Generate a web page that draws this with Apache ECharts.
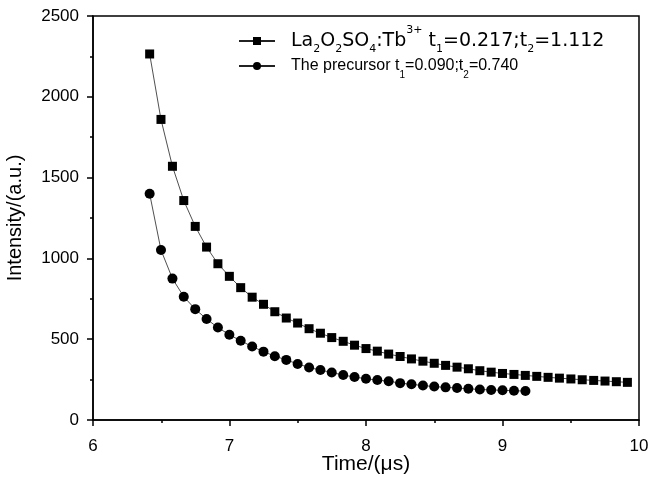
<!DOCTYPE html>
<html>
<head>
<meta charset="utf-8">
<script src="https://cdn.jsdelivr.net/npm/echarts@6/dist/echarts.min.js"></script>
<style>html,body{margin:0;padding:0;background:#fff}#c{width:650px;height:477px}</style>
</head>
<body>
<div id="c"></div>
<script>
var squareTime = [6.415,6.498,6.582,6.665,6.749,6.832,6.915,6.999,7.082,7.166,7.249,7.332,7.416,7.499,7.583,7.666,7.749,7.833,7.916,8.000,8.083,8.166,8.250,8.333,8.417,8.500,8.583,8.667,8.750,8.834,8.917,9.000,9.084,9.167,9.251,9.334,9.417,9.501,9.584,9.668,9.751,9.834,9.915];
var squareIntensity = [2265,1860,1570,1358,1198,1070,967,889,819,760,716,670,631,600,565,537,510,487,463,442,426,408,393,378,364,351,338,327,317,305,296,288,282,276,270,264,259,254,249,245,241,237,233];
var circleTime = [6.415,6.498,6.582,6.665,6.749,6.832,6.915,6.999,7.082,7.166,7.249,7.332,7.416,7.499,7.583,7.666,7.749,7.833,7.916,8.000,8.083,8.166,8.250,8.333,8.417,8.500,8.583,8.667,8.750,8.834,8.917,9.000,9.084,9.168];
var circleIntensity = [1400,1052,875,763,686,625,572,528,490,455,423,395,372,347,325,309,294,278,266,255,247,240,228,221,213,207,202,198,193,189,186,184,181,179];
var xTicks = [6,7,8,9,10];
var yTicks = [0,500,1000,1500,2000,2500];
var seriesNames = ['La2O2SO4:Tb3+', 'The precursor'];

function pairs(xs, ys){ return xs.map(function(x,i){ return [x, ys[i]]; }); }

var chart = echarts.init(document.getElementById('c'), null, {renderer:'canvas'});
var FONT = 'Liberation Sans, Arial, sans-serif';
var FONT1 = 'DejaVu Sans, sans-serif';
var rich = {
  sp: {width:11, fontSize:16},
  a: {fontSize:19, fontFamily:FONT1, color:'#000', lineHeight:22},
  asub: {fontSize:11, fontFamily:FONT1, color:'#000', verticalAlign:'bottom', lineHeight:12, padding:[0,0,-3,0]},
  asup: {fontSize:11, fontFamily:FONT1, color:'#000', verticalAlign:'top', lineHeight:12, padding:[-5,0,0,0]},
  n: {fontSize:16, fontFamily:FONT, color:'#000', lineHeight:22},
  sub: {fontSize:10, fontFamily:FONT, color:'#000', verticalAlign:'bottom', lineHeight:12, padding:[0,0,-3,0]}
};
chart.setOption({
  animation:false,
  backgroundColor:'#fff',
  grid:{left:93, right:11, top:16, bottom:57, show:true, borderColor:'#000', borderWidth:1.5, backgroundColor:'transparent', containLabel:false, outerBoundsMode:'none'},
  legend:{
    orient:'vertical', left:233, top:20, itemWidth:36, itemHeight:10, itemGap:3,
    data:seriesNames,
    formatter:function(name){
      if(name===seriesNames[0]) return '{sp|}{a|La}{asub|2}{a|O}{asub|2}{a|SO}{asub|4}{a|:Tb}{asup|3+}{a| t}{asub|1}{a|=0.217;t}{asub|2}{a|=1.112}';
      return '{sp|}{n|The precursor t}{sub|1}{n|=0.090;t}{sub|2}{n|=0.740}';
    },
    textStyle:{rich:rich, fontSize:16, fontFamily:FONT, color:'#000'}
  },
  xAxis:{
    type:'value', min:xTicks[0], max:xTicks[xTicks.length-1], interval:1,
    name:'Time/(\u03bcs)', nameLocation:'middle', nameGap:34, nameMoveOverlap:false,
    nameTextStyle:{fontSize:21, fontFamily:FONT, color:'#000'},
    axisLine:{show:true, onZero:false, lineStyle:{color:'#000', width:1.5}},
    axisTick:{show:true, inside:false, length:6, lineStyle:{color:'#000', width:1.5}},
    minorTick:{show:true, splitNumber:2, length:3, lineStyle:{color:'#000', width:1.5}},
    axisLabel:{fontSize:17, fontFamily:FONT, color:'#000', margin:18, formatter:function(v){return String(v);}},
    splitLine:{show:false}
  },
  yAxis:{
    type:'value', min:yTicks[0], max:yTicks[yTicks.length-1], interval:500,
    name:'Intensity/(a.u.)', nameLocation:'middle', nameGap:68, nameRotate:90, nameMoveOverlap:false,
    nameTextStyle:{fontSize:20, fontFamily:FONT, color:'#000'},
    axisLine:{show:true, onZero:false, lineStyle:{color:'#000', width:1.5}},
    axisTick:{show:true, inside:false, length:6, lineStyle:{color:'#000', width:1.5}},
    minorTick:{show:true, splitNumber:2, length:3, lineStyle:{color:'#000', width:1.5}},
    axisLabel:{fontSize:17, fontFamily:FONT, color:'#000', margin:14, formatter:function(v){return String(v);}},
    splitLine:{show:false}
  },
  series:[
    {name:seriesNames[0], type:'line', data:pairs(squareTime, squareIntensity), symbol:'rect', symbolSize:9,
     itemStyle:{color:'#000'}, lineStyle:{color:'#222', width:0.8}, showAllSymbol:true},
    {name:seriesNames[1], type:'line', data:pairs(circleTime, circleIntensity), symbol:'circle', symbolSize:10,
     itemStyle:{color:'#000'}, lineStyle:{color:'#222', width:0.8}, showAllSymbol:true}
  ]
});
</script>
</body>
</html>
